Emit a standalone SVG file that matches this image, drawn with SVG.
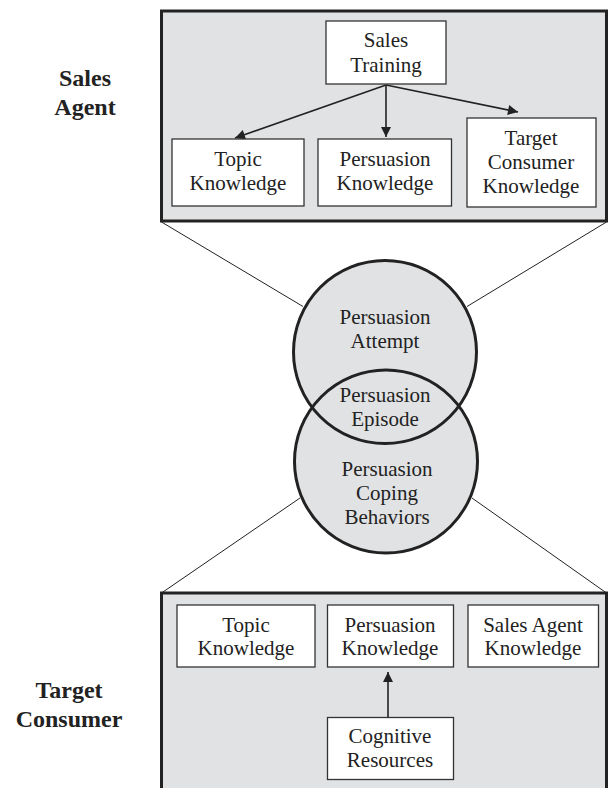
<svg xmlns="http://www.w3.org/2000/svg" width="608" height="788" viewBox="0 0 608 788">
<defs>
<style>
.panel{fill:#e1e2e4;stroke:#222;stroke-width:3}
.box{fill:#fff;stroke:#333;stroke-width:1.3}
.circfill{fill:#e1e2e4;stroke:none}
.circ{fill:none;stroke:#222;stroke-width:3}
.thin{stroke:#222;stroke-width:1;fill:none}
.arrow{stroke:#222;stroke-width:1.6;fill:none;marker-end:url(#ah)}
.t{font-family:"Liberation Serif","Times New Roman",serif;font-size:21px;fill:#222;text-anchor:middle}
.lab{font-family:"Liberation Serif","Times New Roman",serif;font-size:24px;font-weight:bold;fill:#222;text-anchor:middle}
</style>
<marker id="ah" viewBox="0 0 10 10" refX="10" refY="5" markerWidth="11" markerHeight="10" markerUnits="userSpaceOnUse" orient="auto">
<path d="M0,0 L10,5 L0,10 Z" fill="#222"/>
</marker>
</defs>
<rect width="608" height="788" fill="#fff"/>

<g id="label-sales-agent">
<text class="lab" x="85" y="86">Sales</text>
<text class="lab" x="85" y="115">Agent</text>
</g>
<g id="label-target-consumer">
<text class="lab" x="69" y="698">Target</text>
<text class="lab" x="69" y="727">Consumer</text>
</g>

<g id="panel-sales-agent">
<rect class="panel" x="161.5" y="11" width="445" height="210"/>
</g>
<g id="panel-target-consumer">
<rect class="panel" x="161.5" y="593" width="445" height="210"/>
</g>

<g id="connectors">
<line class="thin" x1="161.5" y1="222" x2="303" y2="306.5"/>
<line class="thin" x1="606.5" y1="222" x2="467" y2="306.5"/>
<line class="thin" x1="161.5" y1="593" x2="300" y2="498"/>
<line class="thin" x1="606.5" y1="593" x2="472" y2="498"/>
<line class="arrow" x1="386" y1="85" x2="235" y2="138"/>
<line class="arrow" x1="386" y1="85" x2="386" y2="137"/>
<line class="arrow" x1="386" y1="85" x2="518" y2="112"/>
<line class="arrow" x1="388" y1="717" x2="388" y2="672"/>
</g>

<g id="circles">
<circle class="circfill" cx="385" cy="352" r="91.5"/>
<circle class="circfill" cx="386" cy="461.5" r="91.5"/>
<circle class="circ" cx="385" cy="352" r="91.5"/>
<circle class="circ" cx="386" cy="461.5" r="91.5"/>
</g>

<g id="persuasion-attempt">
<text class="t" x="385" y="324">Persuasion</text>
<text class="t" x="385" y="348">Attempt</text>
</g>
<g id="persuasion-episode">
<text class="t" x="385" y="402">Persuasion</text>
<text class="t" x="385" y="426">Episode</text>
</g>
<g id="persuasion-coping">
<text class="t" x="387" y="476">Persuasion</text>
<text class="t" x="387" y="500">Coping</text>
<text class="t" x="387" y="524">Behaviors</text>
</g>

<g id="sales-training">
<rect class="box" x="326" y="21" width="120" height="63"/>
<text class="t" x="386" y="47">Sales</text>
<text class="t" x="386" y="72">Training</text>
</g>
<g id="agent-topic-knowledge">
<rect class="box" x="172" y="139" width="132" height="67"/>
<text class="t" x="238" y="166">Topic</text>
<text class="t" x="238" y="190">Knowledge</text>
</g>
<g id="agent-persuasion-knowledge">
<rect class="box" x="318" y="139" width="133.5" height="67"/>
<text class="t" x="385" y="166">Persuasion</text>
<text class="t" x="385" y="190">Knowledge</text>
</g>
<g id="agent-target-consumer-knowledge">
<rect class="box" x="467" y="118" width="129" height="89"/>
<text class="t" x="531" y="145">Target</text>
<text class="t" x="531" y="169">Consumer</text>
<text class="t" x="531" y="193">Knowledge</text>
</g>

<g id="consumer-topic-knowledge">
<rect class="box" x="177" y="605" width="138" height="62"/>
<text class="t" x="246" y="632">Topic</text>
<text class="t" x="246" y="655">Knowledge</text>
</g>
<g id="consumer-persuasion-knowledge">
<rect class="box" x="327.5" y="605" width="126" height="62"/>
<text class="t" x="390" y="632">Persuasion</text>
<text class="t" x="390" y="655">Knowledge</text>
</g>
<g id="consumer-sales-agent-knowledge">
<rect class="box" x="468" y="605" width="130.5" height="62"/>
<text class="t" x="533" y="632">Sales Agent</text>
<text class="t" x="533" y="655">Knowledge</text>
</g>
<g id="cognitive-resources">
<rect class="box" x="327.5" y="717.5" width="126" height="62"/>
<text class="t" x="390" y="743">Cognitive</text>
<text class="t" x="390" y="767">Resources</text>
</g>
</svg>
